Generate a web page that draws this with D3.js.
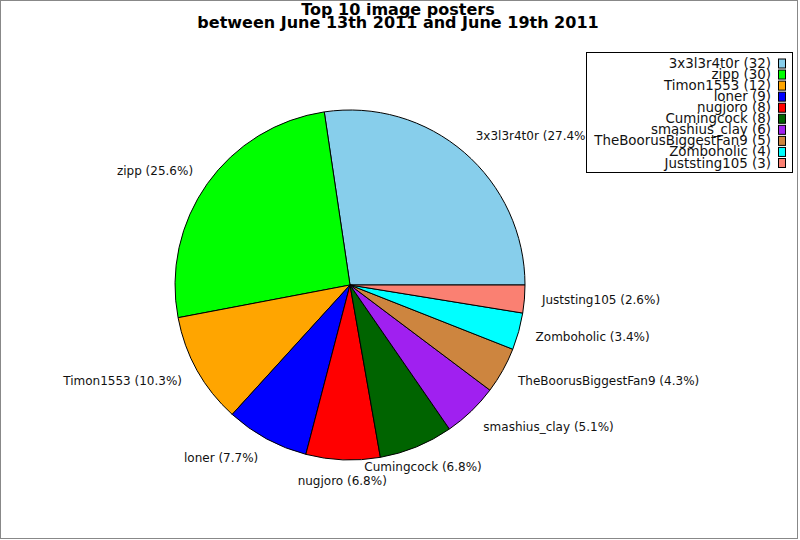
<!DOCTYPE html>
<html>
<head>
<meta charset="utf-8">
<script src="https://cdn.jsdelivr.net/npm/d3@7"></script>
<style>
  body { margin: 0; background: #fff; }
  text { font-family: "DejaVu Sans", sans-serif; }
</style>
</head>
<body>
<svg id="chart" width="800" height="540"></svg>
<script>
// top 10 posters, counts per user
var posters = ["3x3l3r4t0r", "zipp", "Timon1553", "loner", "nugjoro", "Cumingcock",
               "smashius_clay", "TheBoorusBiggestFan9", "Zomboholic", "Juststing105"];
var counts = [32, 30, 12, 9, 8, 8, 6, 5, 4, 3];
var colors = ["#87ceeb", "#00ff00", "#ffa500", "#0000ff", "#ff0000", "#006400",
              "#a020f0", "#cd853f", "#00ffff", "#fa8072"];
var titleLines = ["Top 10 image posters", "between June 13th 2011 and June 19th 2011"];

var svg = d3.select("#chart");
var cx = 350, cy = 285, radius = 175;
var total = d3.sum(counts);

svg.append("rect")
	.attr("x", 0.5).attr("y", 0.5)
	.attr("width", 797).attr("height", 538)
	.attr("fill", "#fff").attr("stroke", "#888");

var data = posters.map(function(p, i) { return { name: p, value: counts[i], color: colors[i] }; });

// counter-clockwise starting at 3 o'clock
var pie = d3.pie()
	.sort(null)
	.value(function(d) { return d.value; })
	.startAngle(Math.PI / 2)
	.endAngle(Math.PI / 2 - 2 * Math.PI);

var arc = d3.arc().innerRadius(0).outerRadius(radius);
var arcs = pie(data);

var g = svg.append("g").attr("transform", "translate(" + cx + "," + cy + ")");

g.selectAll("path")
	.data(arcs)
	.enter().append("path")
	.attr("d", arc)
	.attr("fill", function(d) { return d.data.color; })
	.attr("stroke", "#000")
	.attr("stroke-width", 1)
	.attr("stroke-linejoin", "round");

var labelRx = radius * 1.1, labelRy = radius * 1.125;
var fmt = d3.format(".1f");
g.selectAll("text.lbl")
	.data(arcs)
	.enter().append("text")
	.attr("class", "lbl")
	.attr("x", function(d) { return Math.sin((d.startAngle + d.endAngle) / 2) * labelRx; })
	.attr("y", function(d) { return -Math.cos((d.startAngle + d.endAngle) / 2) * labelRy; })
	.attr("dy", "0.3em")
	.attr("text-anchor", function(d) {
		var s = Math.sin((d.startAngle + d.endAngle) / 2);
		if (Math.abs(s) < 0.4) return "middle";
		return s > 0 ? "start" : "end";
	})
	.attr("font-size", 12)
	.attr("fill", "#111")
	.text(function(d) { return d.data.name + " (" + fmt(d.data.value / total * 100) + "%)"; });

// title
svg.selectAll("text.title")
	.data(titleLines)
	.enter().append("text")
	.attr("class", "title")
	.attr("x", 398)
	.attr("y", function(d, i) { return 15 + i * 12.5; })
	.attr("text-anchor", "middle")
	.attr("font-size", 16)
	.attr("font-weight", "bold")
	.text(function(d) { return d; });

// legend
var legend = svg.append("g");
legend.append("rect")
	.attr("x", 586.5).attr("y", 52.5)
	.attr("width", 206).attr("height", 120)
	.attr("fill", "#fff").attr("stroke", "#000");

var rowY = d3.scaleLinear().domain([0, posters.length - 1]).range([63.5, 163]);
var rows = legend.selectAll("g.row")
	.data(data)
	.enter().append("g")
	.attr("class", "row")
	.attr("transform", function(d, i) { return "translate(0," + rowY(i) + ")"; });

rows.append("rect")
	.attr("x", 778.5).attr("y", -4.5)
	.attr("width", 7).attr("height", 9)
	.attr("fill", function(d) { return d.color; })
	.attr("stroke", "#000");

rows.append("text")
	.attr("x", 771)
	.attr("y", 4.5)
	.attr("text-anchor", "end")
	.attr("font-size", 13.4)
	.attr("fill", "#111")
	.text(function(d) { return d.name + " (" + d.value + ")"; });
</script>
</body>
</html>
